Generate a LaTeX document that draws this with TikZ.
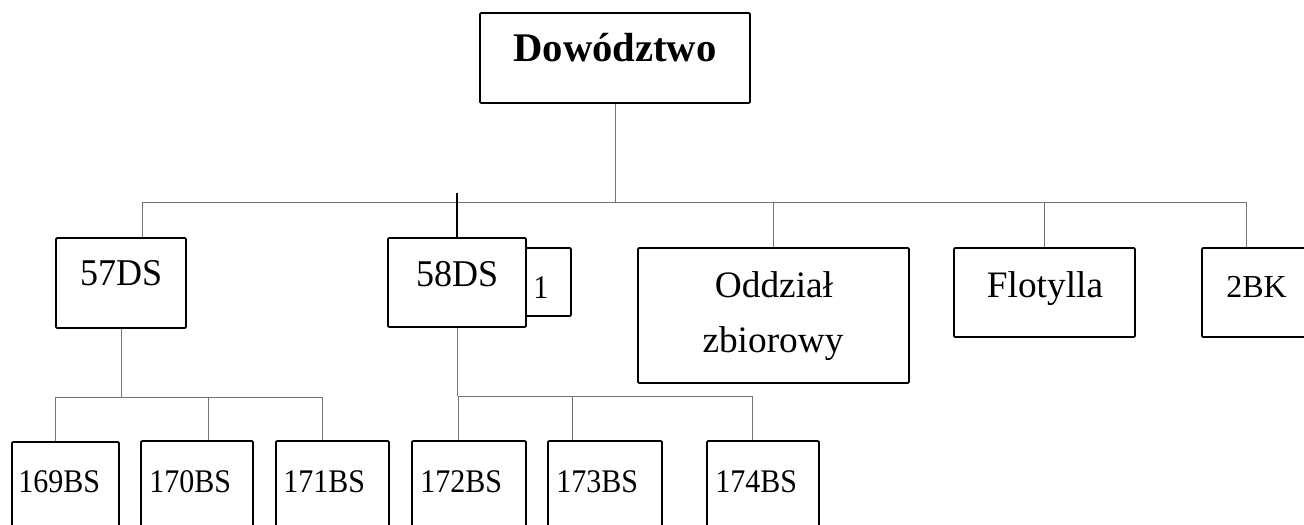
\documentclass[tikz,border=0pt]{standalone}
\usepackage{fontspec}
\setmainfont{Liberation Serif}
\usetikzlibrary{fit}
\newcommand{\tallbs}[1]{\scalebox{1}[1.1]{#1}}
\begin{document}
\begin{tikzpicture}[x=0.75pt,y=-0.75pt,
  box/.style={draw=black, line width=1.3pt, inner sep=0pt, rounded corners=0.8pt},
  conn/.style={draw=black!55, line width=0.6pt},
  mainconn/.style={draw=black, line width=1pt},
  lbl/.style={inner sep=0pt, font=\fontsize{28}{30}\selectfont},
  dslbl/.style={inner sep=0pt, font=\fontsize{27}{29}\selectfont},
  bslbl/.style={inner sep=0pt, font=\fontsize{22.5}{24}\selectfont},
]
\useasboundingbox (0,0) rectangle (1304,525);
\clip (0,0) rectangle (1304,525);
\fill[white] (0,0) rectangle (1304,525);

% boxes
\node[box, fit={(480,13) (750,103)}] (dow) {};
\node[box, fit={(56,238) (186,328)}] (d57) {};
\node[box, fit={(388,238) (526,327)}] (d58) {};
\node[box, fit={(526,248) (571,316)}] (one) {};
\node[box, fit={(638,248) (909,383)}] (odd) {};
\node[box, fit={(954,248) (1135,337)}] (flo) {};
\node[box, fit={(1202,248) (1330,337)}] (bk) {};
\node[box, fit={(12,442) (119,545)}] (b169) {};
\node[box, fit={(141,441) (253,545)}] (b170) {};
\node[box, fit={(276,441) (389,545)}] (b171) {};
\node[box, fit={(412,441) (526,545)}] (b172) {};
\node[box, fit={(548,441) (662,545)}] (b173) {};
\node[box, fit={(707,441) (819,545)}] (b174) {};

% texts
\node[inner sep=0pt, font=\bfseries\fontsize{30.5}{32}\selectfont, anchor=base] (tdow) at (615,61) {Dowództwo};
\node[dslbl, anchor=base west] (t57) at (80,285) {\scalebox{1}[1.05]{57DS}};
\node[dslbl, anchor=base west] (t58) at (416,286) {\scalebox{1}[1.05]{58DS}};
\node[bslbl, anchor=base west] (tone) at (533,298) {\tallbs{1}};
\node[lbl, anchor=base] (todd1) at (774,297) {Oddział};
\node[lbl, anchor=base] (todd2) at (773,352) {zbiorowy};
\node[lbl, anchor=base] (tflo) at (1045,297) {Flotylla};
\node[inner sep=0pt, font=\fontsize{24}{26}\selectfont, anchor=base west] (tbk) at (1226,297) {2BK};
\node[bslbl, anchor=base west] (t169) at (18,492) {\tallbs{169BS}};
\node[bslbl, anchor=base west] (t170) at (149,492) {\tallbs{170BS}};
\node[bslbl, anchor=base west] (t171) at (283,492) {\tallbs{171BS}};
\node[bslbl, anchor=base west] (t172) at (420,492) {\tallbs{172BS}};
\node[bslbl, anchor=base west] (t173) at (556,492) {\tallbs{173BS}};
\node[bslbl, anchor=base west] (t174) at (715,492) {\tallbs{174BS}};

% main bus
\coordinate (j57) at (142,202);
\coordinate (jbk) at (1246,202);
\coordinate (t58top) at (457,193);
\draw[conn] (dow.south) -- (dow.south |- j57);
\draw[conn] (j57) -- (jbk);
\draw[conn] (j57) -- (j57 |- d57.north);
\draw[mainconn] (t58top) -- (d58.north);
\draw[conn] (odd.north |- j57) -- (odd.north);
\draw[conn] (flo.north |- j57) -- (flo.north);
\draw[conn] (jbk) -- (jbk |- bk.north);

% 57DS sub-bus
\coordinate (c169) at (55,397);
\coordinate (c170) at (208,397);
\coordinate (c171) at (322,397);
\draw[conn] (d57.south) -- (d57.south |- c169);
\draw[conn] (c169) -- (c171);
\draw[conn] (c169) -- (c169 |- b169.north);
\draw[conn] (c170) -- (c170 |- b170.north);
\draw[conn] (c171) -- (c171 |- b171.north);

% 58DS sub-bus
\coordinate (c172) at (458,396);
\coordinate (c173) at (572,396);
\coordinate (c174) at (752,396);
\draw[conn] (d58.south) -- (d58.south |- c172);
\draw[conn] (c172) -- (c174);
\draw[conn] (c172) -- (c172 |- b172.north);
\draw[conn] (c173) -- (c173 |- b173.north);
\draw[conn] (c174) -- (c174 |- b174.north);
\end{tikzpicture}
\end{document}
